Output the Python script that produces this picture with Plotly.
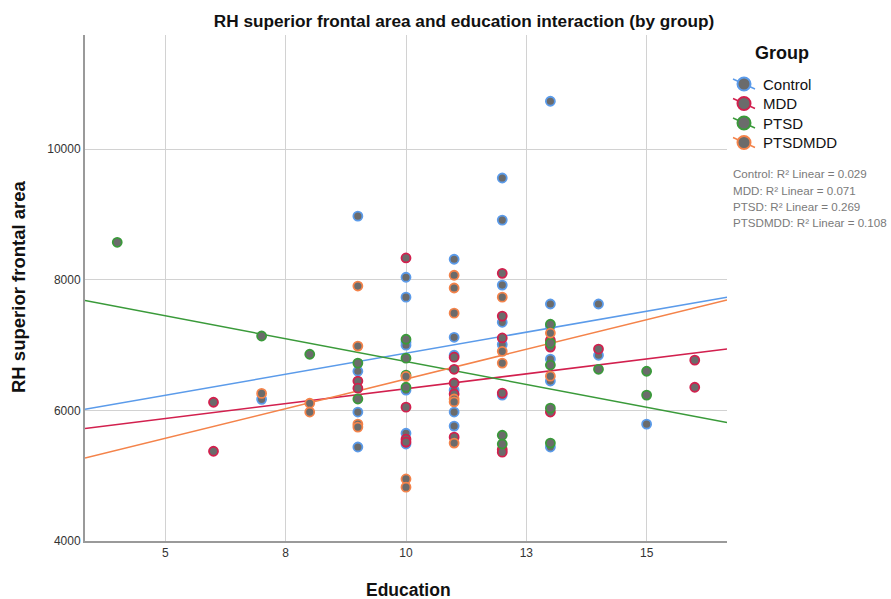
import numpy as np
import plotly.graph_objects as go

# Education (years) and RH superior frontal area, per group
control_edu = [7, 9, 9, 9, 9, 10, 10, 10, 10, 10, 10, 10, 11, 11, 11, 11, 11, 11,
               12, 12, 12, 12, 12, 12, 13, 13, 13, 13, 13, 13, 14, 14, 15]
control_area = [6170, 8975, 6600, 5975, 5440, 8040, 7735, 7045, 7000, 6310, 5650, 5485,
                8315, 7120, 6845, 6310, 5975, 5760, 9560, 8915, 7920, 7350, 7010, 6235,
                10735, 7630, 7290, 6785, 6450, 5440, 7630, 6845, 5790]

mdd_edu = [6, 6, 9, 9, 10, 10, 10, 10, 11, 11, 11, 11, 11, 12, 12, 12, 12, 12, 12,
           13, 13, 13, 14, 16, 16]
mdd_area = [6125, 5375, 6450, 6340, 8335, 6050, 5560, 5515, 6815, 6630, 6420, 6250, 5590,
            8100, 7445, 7110, 6265, 5400, 5360, 7075, 6970, 5975, 6940, 6770, 6355]

ptsd_edu = [4, 7, 8, 9, 9, 10, 10, 10, 10, 12, 12, 13, 13, 13, 13, 13, 14, 15, 15]
ptsd_area = [8575, 7140, 6860, 6725, 6175, 7090, 6800, 6540, 6355, 5620, 5485,
             7320, 7030, 6695, 6035, 5500, 6630, 6600, 6235]

ptsdmdd_edu = [7, 8, 8, 9, 9, 9, 9, 10, 10, 10, 11, 11, 11, 11, 11, 11, 12, 12, 12, 13, 13]
ptsdmdd_area = [6260, 6110, 5975, 7905, 6985, 5790, 5745, 6520, 4950, 4825,
                8070, 7875, 7490, 6175, 6130, 5500, 7735, 6905, 6725, 7185, 6525]

group_names = ["Control", "MDD", "PTSD", "PTSDMDD"]
group_colors = ["#5b9bea", "#d2204e", "#3a9a3a", "#f4834a"]
r2_labels = ["0.029", "0.071", "0.269", "0.108"]

x_tick_vals = [5, 7.5, 10, 12.5, 15]
x_tick_text = ["5", "8", "10", "13", "15"]
y_tick_vals = [4000, 6000, 8000, 10000]
y_tick_text = ["4000", "6000", "8000", "10000"]

x_range = [3.33, 16.67]
y_range = [4000, 11750]

groups = [
    (control_edu, control_area),
    (mdd_edu, mdd_area),
    (ptsd_edu, ptsd_area),
    (ptsdmdd_edu, ptsdmdd_area),
]

FONT = "Liberation Sans, Arial, sans-serif"
W, H = 891, 599
PLOT_L, PLOT_R, PLOT_T, PLOT_B = 85, 727, 35, 541


def px_x(px):
    """Horizontal pixel position -> paper coordinate."""
    return (px - PLOT_L) / (PLOT_R - PLOT_L)


def px_y(py):
    """Vertical pixel position -> paper coordinate."""
    return (PLOT_B - py) / (PLOT_B - PLOT_T)


fig = go.Figure()

# Least-squares fit line for each group, across the full x range
xs_line = np.array(x_range)
for (edu, area), color in zip(groups, group_colors):
    slope, intercept = np.polyfit(edu, area, 1)
    fig.add_trace(go.Scatter(
        x=xs_line, y=intercept + slope * xs_line, mode="lines",
        line=dict(color=color, width=1.5), showlegend=False, hoverinfo="skip",
    ))

# Scatter points: grey fill with group-coloured outline
for (edu, area), name, color in zip(groups, group_names, group_colors):
    fig.add_trace(go.Scatter(
        x=edu, y=area, mode="markers", name=name, showlegend=False,
        marker=dict(size=9, color="#6b6b6b", line=dict(color=color, width=1.8)),
    ))

# Legend block on the right: title, symbols (circle crossed by a fit line) and labels
fig.add_annotation(
    x=px_x(782), y=px_y(53), xref="paper", yref="paper", text="<b>Group</b>",
    showarrow=False, xanchor="center", yanchor="middle",
    font=dict(family=FONT, size=18, color="#111111"),
)
legend_y_px = [84, 103.5, 123, 142.5]
for name, color, ly in zip(group_names, group_colors, legend_y_px):
    fig.add_shape(
        type="line", xref="paper", yref="paper",
        x0=px_x(733), y0=px_y(ly - 5), x1=px_x(755), y1=px_y(ly + 5),
        line=dict(color=color, width=1.5),
    )
    fig.add_shape(
        type="circle", xref="paper", yref="paper",
        x0=px_x(744 - 6.5), y0=px_y(ly + 6.5), x1=px_x(744 + 6.5), y1=px_y(ly - 6.5),
        fillcolor="#6b6b6b", line=dict(color=color, width=2),
    )
    fig.add_annotation(
        x=px_x(761), y=px_y(ly), xref="paper", yref="paper", text=name,
        showarrow=False, xanchor="left", yanchor="middle",
        font=dict(family=FONT, size=15, color="#111111"),
    )

# R² annotations under the legend
r2_y_px = [173, 190, 206, 222.5]
for name, r2, ypx in zip(group_names, r2_labels, r2_y_px):
    fig.add_annotation(
        x=px_x(731), y=px_y(ypx), xref="paper", yref="paper",
        text=f"{name}: R² Linear = {r2}",
        showarrow=False, xanchor="left", yanchor="middle",
        font=dict(family=FONT, size=11.6, color="#7a7a7a"),
    )

# Axis titles
fig.add_annotation(
    x=px_x(408), y=px_y(590), xref="paper", yref="paper", text="<b>Education</b>",
    showarrow=False, xanchor="center", yanchor="middle",
    font=dict(family=FONT, size=17.5, color="#111111"),
)
fig.add_annotation(
    x=px_x(18), y=px_y(287), xref="paper", yref="paper",
    text="<b>RH superior frontal area</b>", textangle=-90,
    showarrow=False, xanchor="center", yanchor="middle",
    font=dict(family=FONT, size=18.5, color="#111111"),
)

fig.update_layout(
    width=W, height=H,
    margin=dict(l=PLOT_L, r=W - PLOT_R, t=PLOT_T, b=H - PLOT_B),
    paper_bgcolor="white", plot_bgcolor="white",
    font=dict(family=FONT, color="#222222"),
    title=dict(text="<b>RH superior frontal area and education interaction (by group)</b>",
               x=464 / W, xanchor="center", y=1 - 21 / H, yanchor="middle",
               font=dict(size=17.2, color="#111111")),
    showlegend=False,
)

fig.update_xaxes(
    range=x_range, tickvals=x_tick_vals, ticktext=x_tick_text,
    showgrid=True, gridcolor="#d2d2d2", gridwidth=1.3,
    showline=True, linecolor="#9a9a9a", linewidth=2, zeroline=False,
    ticks="", tickfont=dict(size=12, color="#333333"), automargin=False,
)
fig.update_yaxes(
    range=y_range, tickvals=y_tick_vals, ticktext=y_tick_text,
    showgrid=True, gridcolor="#d2d2d2", gridwidth=1.3,
    showline=True, linecolor="#9a9a9a", linewidth=2, zeroline=False,
    ticks="", tickfont=dict(size=12, color="#333333"), automargin=False,
)

fig.write_html("out.html")
